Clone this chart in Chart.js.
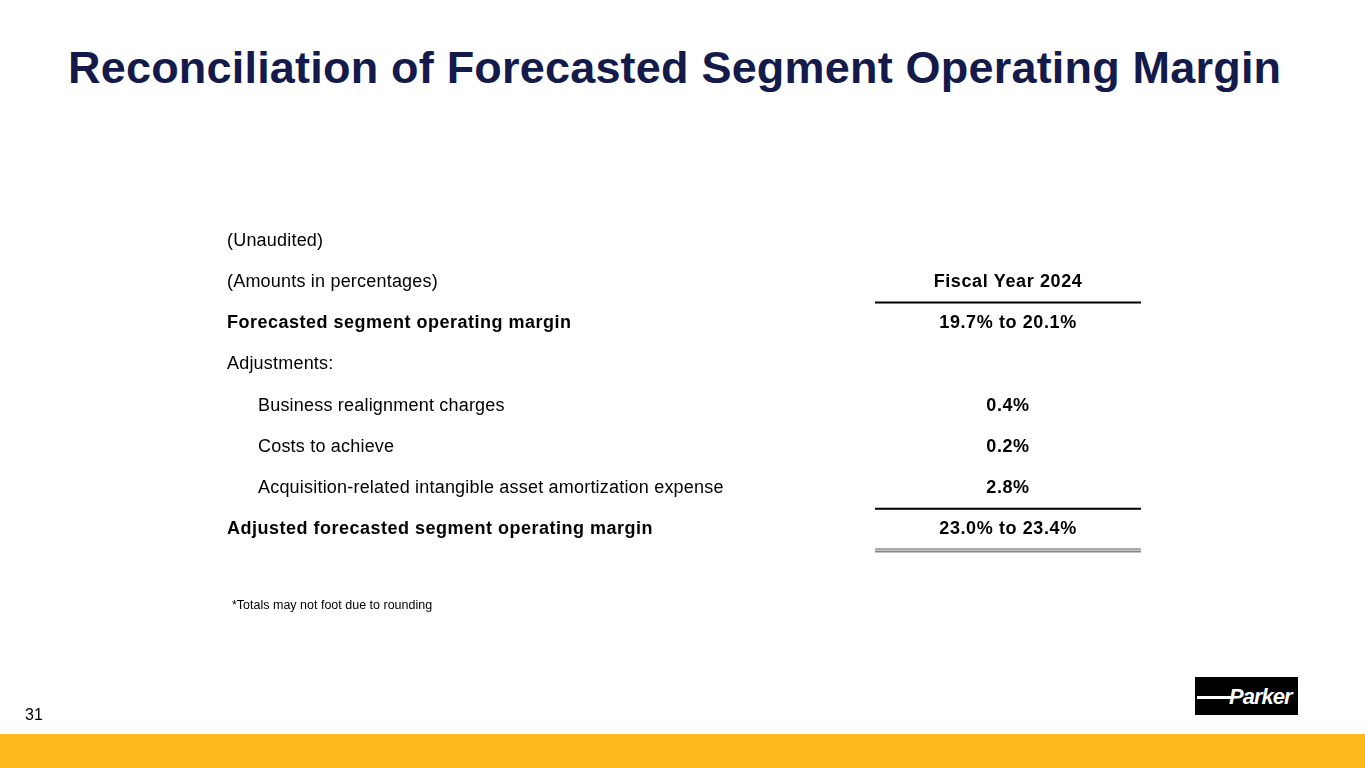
<!DOCTYPE html>
<html>
<head>
<meta charset="UTF-8">
<script src="https://cdn.jsdelivr.net/npm/chart.js@4.4.7/dist/chart.umd.min.js"></script>
<style>
  * { margin: 0; padding: 0; box-sizing: border-box; }
  body { width: 1365px; height: 768px; position: relative; background: #fff; font-family: 'Liberation Sans', Arial, sans-serif; overflow: hidden; }
  h1 { position: absolute; left: 68px; top: 42px; font-size: 45px; font-weight: 700; color: #141a4a; letter-spacing: 0.2px; }
  #wrap { position: absolute; left: 0; top: 0; width: 1365px; height: 768px; }
  .page { position: absolute; left: 25px; top: 706px; font-size: 16px; color: #000; }
  .band { position: absolute; left: 0; top: 734px; width: 1365px; height: 34px; background: #ffb81c; }
  .logo { position: absolute; left: 1195px; top: 677px; width: 103px; height: 38px; background: #000; color: #fff; font: italic 900 22px 'Liberation Sans', Arial, sans-serif; padding: 7px 0 0 34px; letter-spacing: -1px; }
  .logo:before { content: ''; position: absolute; left: 2px; top: 19px; width: 34px; height: 3px; background: #fff; }
</style>
</head>
<body>
<h1>Reconciliation of Forecasted Segment Operating Margin</h1>
<div id="wrap"><canvas id="tbl" width="1365" height="768"></canvas></div>
<div class="page">31</div>
<div class="logo">Parker</div>
<div class="band"></div>
<script>
// table rows
const rowLabels = [
  '(Unaudited)',
  '(Amounts in percentages)',
  'Forecasted segment operating margin',
  'Adjustments:',
  'Business realignment charges',
  'Costs to achieve',
  'Acquisition-related intangible asset amortization expense',
  'Adjusted forecasted segment operating margin'
];
const rowValues = ['', 'Fiscal Year 2024', '19.7% to 20.1%', '', '0.4%', '0.2%', '2.8%', '23.0% to 23.4%'];
const rowBold = [false, false, true, false, false, false, false, true];
const rowIndent = [false, false, false, false, true, true, true, false];
const footnote = '*Totals may not foot due to rounding';

const tablePlugin = {
  id: 'tablePlugin',
  afterDraw(chart) {
    const ctx = chart.ctx, x = chart.scales.x, y = chart.scales.y;
    const colLeft = x.getPixelForValue(227), colIndent = x.getPixelForValue(258);
    const valCenter = x.getPixelForValue(1008);
    const lineL = x.getPixelForValue(875), lineR = x.getPixelForValue(1141);
    const half = (y.getPixelForValue(1) - y.getPixelForValue(0)) / 2;
    ctx.save();
    ctx.textBaseline = 'middle';
    ctx.fillStyle = '#000';
    rowLabels.forEach((lab, i) => {
      const py = y.getPixelForValue(i);
      ctx.font = (rowBold[i] ? 'bold ' : '') + '18px "Liberation Sans", Arial, sans-serif';
      ctx.letterSpacing = rowBold[i] ? '0.5px' : '0.2px';
      ctx.textAlign = 'left';
      ctx.fillText(lab, rowIndent[i] ? colIndent : colLeft, py);
      if (rowValues[i]) {
        ctx.font = 'bold 18px "Liberation Sans", Arial, sans-serif';
        ctx.letterSpacing = '0.6px';
        ctx.textAlign = 'center';
        ctx.fillText(rowValues[i], valCenter, py);
      }
    });
    ctx.letterSpacing = '0px';
    const line = (py, w, c) => {
      ctx.strokeStyle = c; ctx.lineWidth = w;
      ctx.beginPath(); ctx.moveTo(lineL, py); ctx.lineTo(lineR, py); ctx.stroke();
    };
    line(y.getPixelForValue(1) + half, 2, '#000');
    line(y.getPixelForValue(6) + half, 2, '#000');
    line(y.getPixelForValue(7) + half - 1, 1, '#555');
    line(y.getPixelForValue(7) + half + 1.5, 2, '#888');
    ctx.font = '12.5px "Liberation Sans", Arial, sans-serif';
    ctx.textAlign = 'left';
    ctx.fillText(footnote, x.getPixelForValue(232), y.getPixelForValue(7) + 76);
    ctx.restore();
  }
};

new Chart(document.getElementById('tbl'), {
  type: 'scatter',
  data: { labels: rowLabels, datasets: [{ data: [], pointRadius: 0 }] },
  options: {
    responsive: false,
    animation: false,
    layout: { padding: { top: 220, bottom: 218, left: 0, right: 0 } },
    plugins: { legend: { display: false }, tooltip: { enabled: false } },
    scales: {
      x: { type: 'linear', min: 0, max: 1365, display: false },
      y: { type: 'category', labels: rowLabels, offset: true, display: false }
    }
  },
  plugins: [tablePlugin]
});
</script>
</body>
</html>
